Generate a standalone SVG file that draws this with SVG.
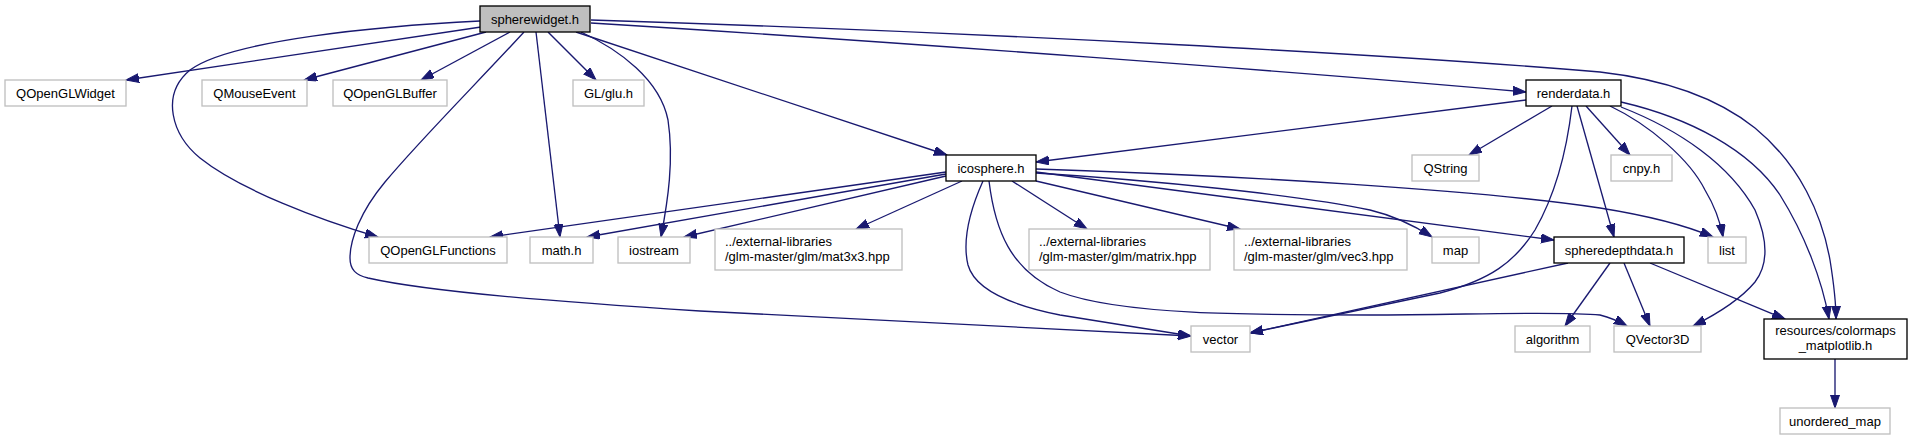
<svg xmlns="http://www.w3.org/2000/svg" width="1912" height="440" viewBox="0 0 1912 440">
<style>
.n rect{fill:#ffffff;stroke:#bfbfbf;stroke-width:1.33}
.n.d rect{stroke:#000000}
.n.r rect{fill:#bfbfbf;stroke:#000000}
.n text{font-family:"Liberation Sans",Arial,sans-serif;font-size:13px;fill:#000000}
.c{text-anchor:middle}
#edges path{fill:none;stroke:#191970;stroke-width:1.33;marker-end:url(#ah)}
</style>
<defs>
<marker id="ah" markerUnits="userSpaceOnUse" markerWidth="14" markerHeight="10" refX="13" refY="4.5" orient="auto">
<path d="M0,0 L13,4.5 L0,9 z" fill="#191970" stroke="#191970" stroke-width="1"/>
</marker>
</defs>
<rect width="1912" height="440" fill="#ffffff"/>
<g id="edges">
<path d="M481,27 L126,80"/>
<path d="M486,32 L304,80"/>
<path d="M510,32 L421,80"/>
<path d="M548,32 L596,80"/>
<path d="M480,21 C380,26 230,40 190,70 C160,95 172,135 200,158 C240,190 320,220 378,237"/>
<path d="M536,32 L560,237"/>
<path d="M581,32 C620,50 660,80 668,120 C674,160 668,200 661,237"/>
<path d="M524,32 C480,80 420,140 385,182 C360,212 350,240 350,258 C350,270 356,275 368,278 C430,292 560,302 700,311 L1191,336"/>
<path d="M576,32 L947,155"/>
<path d="M591,23 C900,42 1300,72 1526,92"/>
<path d="M591,20 C1000,33 1400,55 1600,72 C1670,80 1720,100 1755,128 C1800,165 1822,215 1830,260 C1834,285 1836,305 1836,319"/>
<path d="M1526,100 L1036,162"/>
<path d="M1552,106 L1469,155"/>
<path d="M1586,106 L1630,155"/>
<path d="M1572,106 C1568,140 1558,190 1535,230 C1515,262 1490,280 1440,293 L1250,333"/>
<path d="M1577,106 L1614,237"/>
<path d="M1610,106 C1650,125 1690,160 1705,190 C1714,205 1720,220 1723,237"/>
<path d="M1621,107 C1680,130 1730,165 1755,210 C1768,240 1768,265 1755,282 C1740,300 1715,315 1693,326"/>
<path d="M1621,102 C1690,118 1750,150 1780,195 C1805,235 1822,280 1829,319"/>
<path d="M946,172 L490,237"/>
<path d="M946,174 L587,237"/>
<path d="M946,176 L684,237"/>
<path d="M962,181 L856,229"/>
<path d="M1012,181 L1087,229"/>
<path d="M1036,181 L1240,229"/>
<path d="M1036,173 C1150,180 1300,195 1370,210 C1395,216 1415,226 1432,237"/>
<path d="M1036,172 L1554,240"/>
<path d="M1036,169 C1250,176 1480,190 1600,208 C1650,216 1685,225 1713,237"/>
<path d="M983,181 C970,210 962,240 968,265 C975,290 1010,305 1060,315 L1191,336"/>
<path d="M989,181 C995,230 1010,270 1060,292 C1120,315 1250,315 1370,315 C1460,315 1560,311 1600,315 C1612,318 1620,322 1627,326"/>
<path d="M1568,263 L1250,333"/>
<path d="M1610,263 L1565,326"/>
<path d="M1624,263 L1650,326"/>
<path d="M1650,263 L1785,319"/>
<path d="M1835,359 L1835,408"/>
</g>
<g id="node-spherewidget" class="n r"><rect x="480" y="6" width="110" height="26"/><text class="c" x="535" y="23.5">spherewidget.h</text></g>
<g id="node-qopenglwidget" class="n"><rect x="5" y="80" width="121" height="26"/><text class="c" x="65.5" y="97.5">QOpenGLWidget</text></g>
<g id="node-qmouseevent" class="n"><rect x="202" y="80" width="105" height="26"/><text class="c" x="254.5" y="97.5">QMouseEvent</text></g>
<g id="node-qopenglbuffer" class="n"><rect x="333" y="80" width="114" height="26"/><text class="c" x="390" y="97.5">QOpenGLBuffer</text></g>
<g id="node-glu" class="n"><rect x="573" y="80" width="71" height="26"/><text class="c" x="608.5" y="97.5">GL/glu.h</text></g>
<g id="node-renderdata" class="n d"><rect x="1526" y="80" width="95" height="26"/><text class="c" x="1573.5" y="97.5">renderdata.h</text></g>
<g id="node-icosphere" class="n d"><rect x="946" y="155" width="90" height="26"/><text class="c" x="991" y="172.5">icosphere.h</text></g>
<g id="node-qstring" class="n"><rect x="1412" y="155" width="67" height="26"/><text class="c" x="1445.5" y="172.5">QString</text></g>
<g id="node-cnpy" class="n"><rect x="1611" y="155" width="61" height="26"/><text class="c" x="1641.5" y="172.5">cnpy.h</text></g>
<g id="node-qopenglfunctions" class="n"><rect x="369" y="237" width="138" height="26"/><text class="c" x="438" y="254.5">QOpenGLFunctions</text></g>
<g id="node-math" class="n"><rect x="530" y="237" width="63" height="26"/><text class="c" x="561.5" y="254.5">math.h</text></g>
<g id="node-iostream" class="n"><rect x="618" y="237" width="72" height="26"/><text class="c" x="654" y="254.5">iostream</text></g>
<g id="node-mat3x3" class="n"><rect x="715" y="229" width="187" height="41"/><text x="725" y="246">../external-libraries</text><text x="725" y="261">/glm-master/glm/mat3x3.hpp</text></g>
<g id="node-matrix" class="n"><rect x="1029" y="229" width="181" height="41"/><text x="1039" y="246">../external-libraries</text><text x="1039" y="261">/glm-master/glm/matrix.hpp</text></g>
<g id="node-vec3" class="n"><rect x="1234" y="229" width="173" height="41"/><text x="1244" y="246">../external-libraries</text><text x="1244" y="261">/glm-master/glm/vec3.hpp</text></g>
<g id="node-map" class="n"><rect x="1432" y="237" width="47" height="26"/><text class="c" x="1455.5" y="254.5">map</text></g>
<g id="node-spheredepthdata" class="n d"><rect x="1554" y="237" width="130" height="26"/><text class="c" x="1619" y="254.5">spheredepthdata.h</text></g>
<g id="node-list" class="n"><rect x="1708" y="237" width="38" height="26"/><text class="c" x="1727" y="254.5">list</text></g>
<g id="node-vector" class="n"><rect x="1191" y="326" width="59" height="26"/><text class="c" x="1220.5" y="343.5">vector</text></g>
<g id="node-algorithm" class="n"><rect x="1515" y="326" width="75" height="26"/><text class="c" x="1552.5" y="343.5">algorithm</text></g>
<g id="node-qvector3d" class="n"><rect x="1614" y="326" width="87" height="26"/><text class="c" x="1657.5" y="343.5">QVector3D</text></g>
<g id="node-colormaps" class="n d"><rect x="1764" y="319" width="143" height="40"/><text class="c" x="1835.5" y="335">resources/colormaps</text><text class="c" x="1835.5" y="350">_matplotlib.h</text></g>
<g id="node-unordered-map" class="n"><rect x="1780" y="408" width="110" height="26"/><text class="c" x="1835" y="425.5">unordered_map</text></g>
</svg>
